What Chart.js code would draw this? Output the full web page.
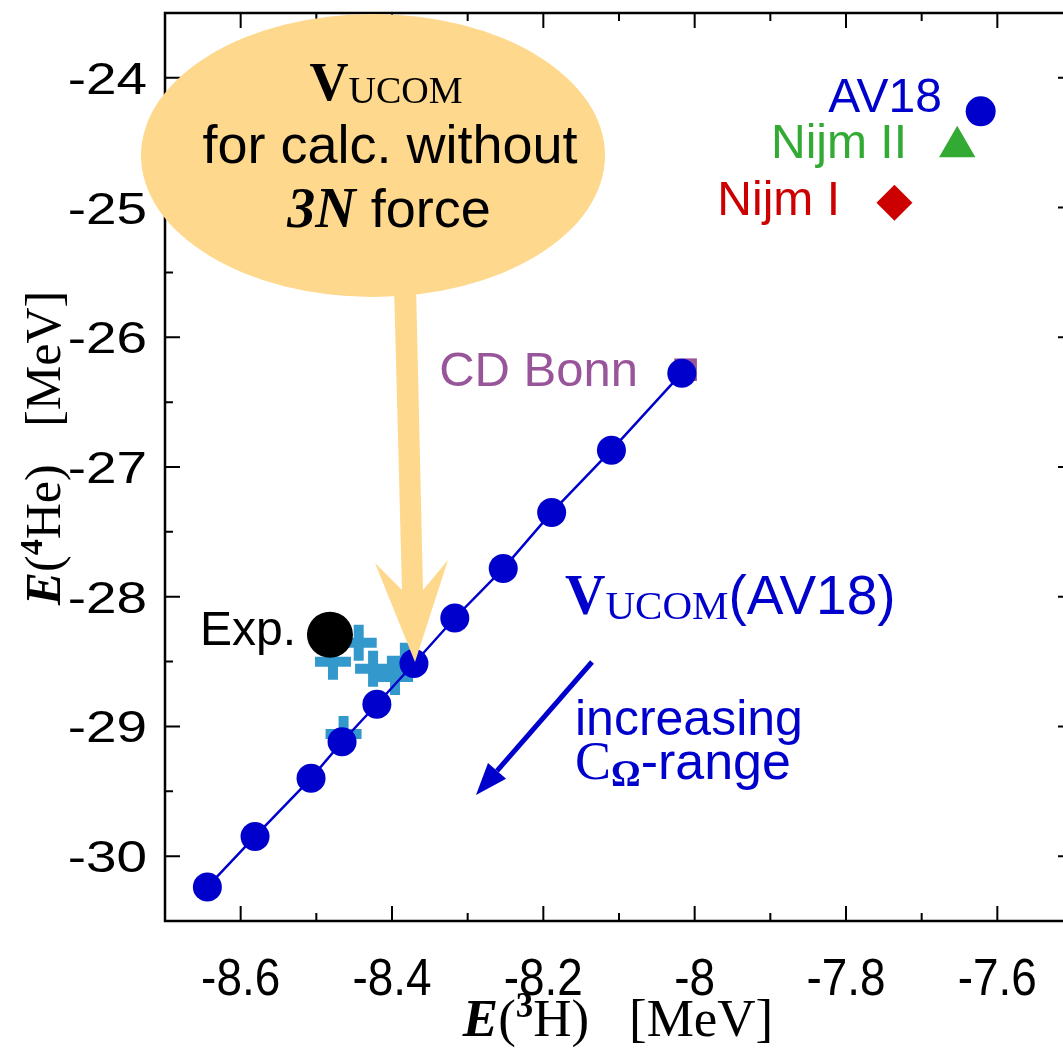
<!DOCTYPE html>
<html><head><meta charset="utf-8">
<script src="https://cdn.jsdelivr.net/npm/chart.js@4.4.0/dist/chart.umd.min.js"></script>
<style>html,body{margin:0;padding:0;background:#fff;overflow:hidden;width:1063px;height:1048px}
#wrap{width:1083px;height:1048px}</style></head>
<body><div id="wrap"><canvas id="c" width="1083" height="1048"></canvas></div>
<script>
// ---- data ----
const chainE3H  = [-8.644,-8.581,-8.507,-8.466,-8.420,-8.371,-8.317,-8.253,-8.189,-8.110,-8.017];
const chainE4He = [-30.237,-29.848,-29.400,-29.118,-28.829,-28.515,-28.164,-27.783,-27.350,-26.870,-26.277];
const fadE3H  = [-8.478,-8.444,-8.425,-8.396,-8.383,-8.464];
const fadE4He = [-28.502,-28.355,-28.556,-28.618,-28.494,-29.059];
const expE3H  = [-8.482];
const expE4He = [-28.293];
const potNames = ['AV18','Nijm II','Nijm I','CD Bonn'];
const potE3H   = [-7.622,-7.653,-7.736,-8.012];
const potE4He  = [-24.258,-24.532,-24.962,-26.250];
const xTicks = [-8.6,-8.4,-8.2,-8,-7.8,-7.6];
const xMinor = [-8.5,-8.3,-8.1,-7.9,-7.7];
const yTicks = [-30,-29,-28,-27,-26,-25,-24];
const yMinor = [-29.5,-28.5,-27.5,-26.5,-25.5,-24.5];

const SANS = '"Liberation Sans", Arial, sans-serif';
const SERIF = '"Liberation Serif", "Times New Roman", serif';
const BLUE = '#0000cc', GREEN = '#33aa33', RED = '#cc0000', PURPLE = '#995599', LBLUE = '#3399cc', ORANGE = 'rgb(254,216,140)';

const pts = (xs, ys) => xs.map((x, i) => ({x, y: ys[i]}));
const one = i => [{x: potE3H[i], y: potE4He[i]}];

function rich(ctx, segs, x, y, align) {
  let w = 0;
  segs.forEach(s => { ctx.font = s.f; s.w = ctx.measureText(s.t).width; w += s.w; });
  let cx = align === 'center' ? x - w / 2 : align === 'right' ? x - w : x;
  ctx.textAlign = 'left'; ctx.textBaseline = 'alphabetic';
  segs.forEach(s => { ctx.font = s.f; ctx.fillStyle = s.c; ctx.fillText(s.t, cx, y + (s.dy || 0)); cx += s.w; });
}
function stretched(ctx, text, font, x, y, sx, align) {
  ctx.save();
  ctx.translate(x, y); ctx.scale(sx, 1);
  ctx.font = font; ctx.fillStyle = '#000'; ctx.textAlign = align; ctx.textBaseline = 'alphabetic';
  ctx.fillText(text, 0, 0);
  ctx.restore();
}

const framePlugin = {
  id: 'frame',
  beforeDatasetsDraw(chart) {
    const {ctx, chartArea: a, scales: {x, y}} = chart;
    ctx.save();
    ctx.strokeStyle = '#000'; ctx.lineWidth = 2.5;
    ctx.strokeRect(a.left, a.top, a.right - a.left, a.bottom - a.top);
    ctx.lineWidth = 2;
    ctx.beginPath();
    const tx = (v, L) => { const p = x.getPixelForValue(v); ctx.moveTo(p, a.bottom); ctx.lineTo(p, a.bottom - L); ctx.moveTo(p, a.top); ctx.lineTo(p, a.top + L); };
    const ty = (v, L) => { const p = y.getPixelForValue(v); ctx.moveTo(a.left, p); ctx.lineTo(a.left + L, p); ctx.moveTo(a.right, p); ctx.lineTo(a.right - L, p); };
    xTicks.forEach(v => tx(v, 15)); xMinor.forEach(v => tx(v, 8));
    yTicks.forEach(v => ty(v, 15)); yMinor.forEach(v => ty(v, 8));
    ctx.stroke();
    // tick labels
    xTicks.forEach(v => stretched(ctx, String(v), '51px ' + SANS, x.getPixelForValue(v), a.bottom + 74, 0.9, 'center'));
    yTicks.forEach(v => stretched(ctx, String(v), '45px ' + SANS, a.left - 18, y.getPixelForValue(v) + 16, 1.22, 'right'));
    ctx.restore();
  },
  afterDatasetsDraw(chart) {
    const {ctx} = chart;
    ctx.save();
    // balloon
    ctx.fillStyle = ORANGE;
    ctx.beginPath(); ctx.ellipse(373, 155.5, 232, 141.5, 0, 0, Math.PI * 2); ctx.fill();
    const poly = [[394,285],[416,285],[423,590],[448,560],[415,662],[375,563],[402,590]];
    ctx.beginPath(); poly.forEach((p, i) => i ? ctx.lineTo(p[0], p[1]) : ctx.moveTo(p[0], p[1])); ctx.closePath(); ctx.fill();
    // balloon text
    rich(ctx, [{t:'V', f:'bold 54px ' + SERIF, c:'#000'}, {t:'UCOM', f:'38px ' + SERIF, c:'#000', dy:3}], 386, 100, 'center');
    rich(ctx, [{t:'for calc. without', f:'54px ' + SANS, c:'#000'}], 390, 163, 'center');
    rich(ctx, [{t:'3', f:'bold italic 56px ' + SERIF, c:'#000'}, {t:'N', f:'bold italic 56px ' + SERIF, c:'#000'}, {t:' force', f:'54px ' + SANS, c:'#000'}], 389, 227, 'center');
    // potential labels
    rich(ctx, [{t:potNames[0], f:'48px ' + SANS, c:BLUE}], 942, 112, 'right');
    rich(ctx, [{t:potNames[1], f:'48px ' + SANS, c:GREEN}], 907, 158, 'right');
    rich(ctx, [{t:potNames[2], f:'48px ' + SANS, c:RED}], 840, 215, 'right');
    rich(ctx, [{t:potNames[3], f:'49px ' + SANS, c:PURPLE}], 638, 386, 'right');
    rich(ctx, [{t:'Exp.', f:'48px ' + SANS, c:'#000'}], 296, 645, 'right');
    rich(ctx, [{t:'V', f:'bold 56px ' + SERIF, c:BLUE}, {t:'UCOM', f:'41px ' + SERIF, c:BLUE, dy:5}, {t:'(AV18)', f:'55px ' + SANS, c:BLUE}], 565, 614, 'left');
    rich(ctx, [{t:'increasing', f:'50px ' + SANS, c:BLUE}], 575, 735, 'left');
    rich(ctx, [{t:'C', f:'54px ' + SERIF, c:BLUE}, {t:'Ω', f:'bold 37px ' + SERIF, c:BLUE, dy:7}, {t:'-range', f:'52px ' + SANS, c:BLUE}], 575, 779, 'left');
    // blue arrow
    ctx.strokeStyle = BLUE; ctx.fillStyle = BLUE; ctx.lineWidth = 5;
    const x0 = 592, y0 = 662, x1 = 476, y1 = 795;
    const ang = Math.atan2(y1 - y0, x1 - x0), L = 32, H = 12;
    const bx = x1 - L * Math.cos(ang), by = y1 - L * Math.sin(ang);
    ctx.beginPath(); ctx.moveTo(x0, y0); ctx.lineTo(bx, by); ctx.stroke();
    ctx.beginPath(); ctx.moveTo(x1, y1);
    ctx.lineTo(bx + H * Math.sin(ang), by - H * Math.cos(ang));
    ctx.lineTo(bx - H * Math.sin(ang), by + H * Math.cos(ang));
    ctx.closePath(); ctx.fill();
    ctx.restore();
  },
  afterDraw(chart) {
    const {ctx} = chart;
    ctx.save();
    rich(ctx, [{t:'E', f:'bold italic 53px ' + SERIF, c:'#000'}, {t:'(', f:'53px ' + SERIF, c:'#000'}, {t:'3', f:'bold 35px ' + SERIF, c:'#000', dy:-19}, {t:'H)   [MeV]', f:'53px ' + SERIF, c:'#000'}], 618, 1036, 'center');
    ctx.translate(60, 448); ctx.rotate(-Math.PI / 2);
    rich(ctx, [{t:'E', f:'bold italic 50px ' + SERIF, c:'#000'}, {t:'(', f:'50px ' + SERIF, c:'#000'}, {t:'4', f:'bold 32px ' + SERIF, c:'#000', dy:-18}, {t:'He)   [MeV]', f:'50px ' + SERIF, c:'#000'}], 0, 0, 'center');
    ctx.restore();
  }
};

new Chart(document.getElementById('c'), {
  type: 'scatter',
  data: {
    datasets: [
      {data: pts(expE3H, expE4He), pointRadius: 23, pointBackgroundColor: '#000', pointBorderWidth: 0},
      {data: pts(chainE3H, chainE4He), showLine: true, borderColor: BLUE, borderWidth: 2.5, pointRadius: 14.5, pointBackgroundColor: BLUE, pointBorderWidth: 0},
      {data: one(3), pointStyle: 'rect', pointRadius: 16, pointBackgroundColor: PURPLE, pointBorderWidth: 0},
      {data: pts(fadE3H, fadE4He), pointStyle: 'cross', pointRadius: 18, pointBorderColor: LBLUE, pointBorderWidth: 10},
      {data: one(0), pointRadius: 15, pointBackgroundColor: BLUE, pointBorderWidth: 0},
      {data: one(1), pointStyle: 'triangle', pointRadius: 21, pointBackgroundColor: GREEN, pointBorderWidth: 0},
      {data: one(2), pointStyle: 'rectRot', pointRadius: 18, pointBackgroundColor: RED, pointBorderWidth: 0}
    ]
  },
  options: {
    responsive: false, animation: false, devicePixelRatio: 1,
    layout: {autoPadding: false, padding: {top: 13, right: 10, left: 0, bottom: 0}},
    plugins: {legend: {display: false}, tooltip: {enabled: false}},
    scales: {
      x: {type: 'linear', min: -8.7, max: -7.5,
          afterFit: s => { s.height = 127; },
          afterBuildTicks: s => { s.ticks = xTicks.map(v => ({value: v})); },
          grid: {display: false, drawTicks: false}, border: {display: false},
          ticks: {display: false}},
      y: {type: 'linear', min: -30.5, max: -23.5,
          afterFit: s => { s.width = 165; },
          afterBuildTicks: s => { s.ticks = yTicks.map(v => ({value: v})); },
          grid: {display: false, drawTicks: false}, border: {display: false},
          ticks: {display: false}}
    }
  },
  plugins: [framePlugin]
});
</script></body></html>
